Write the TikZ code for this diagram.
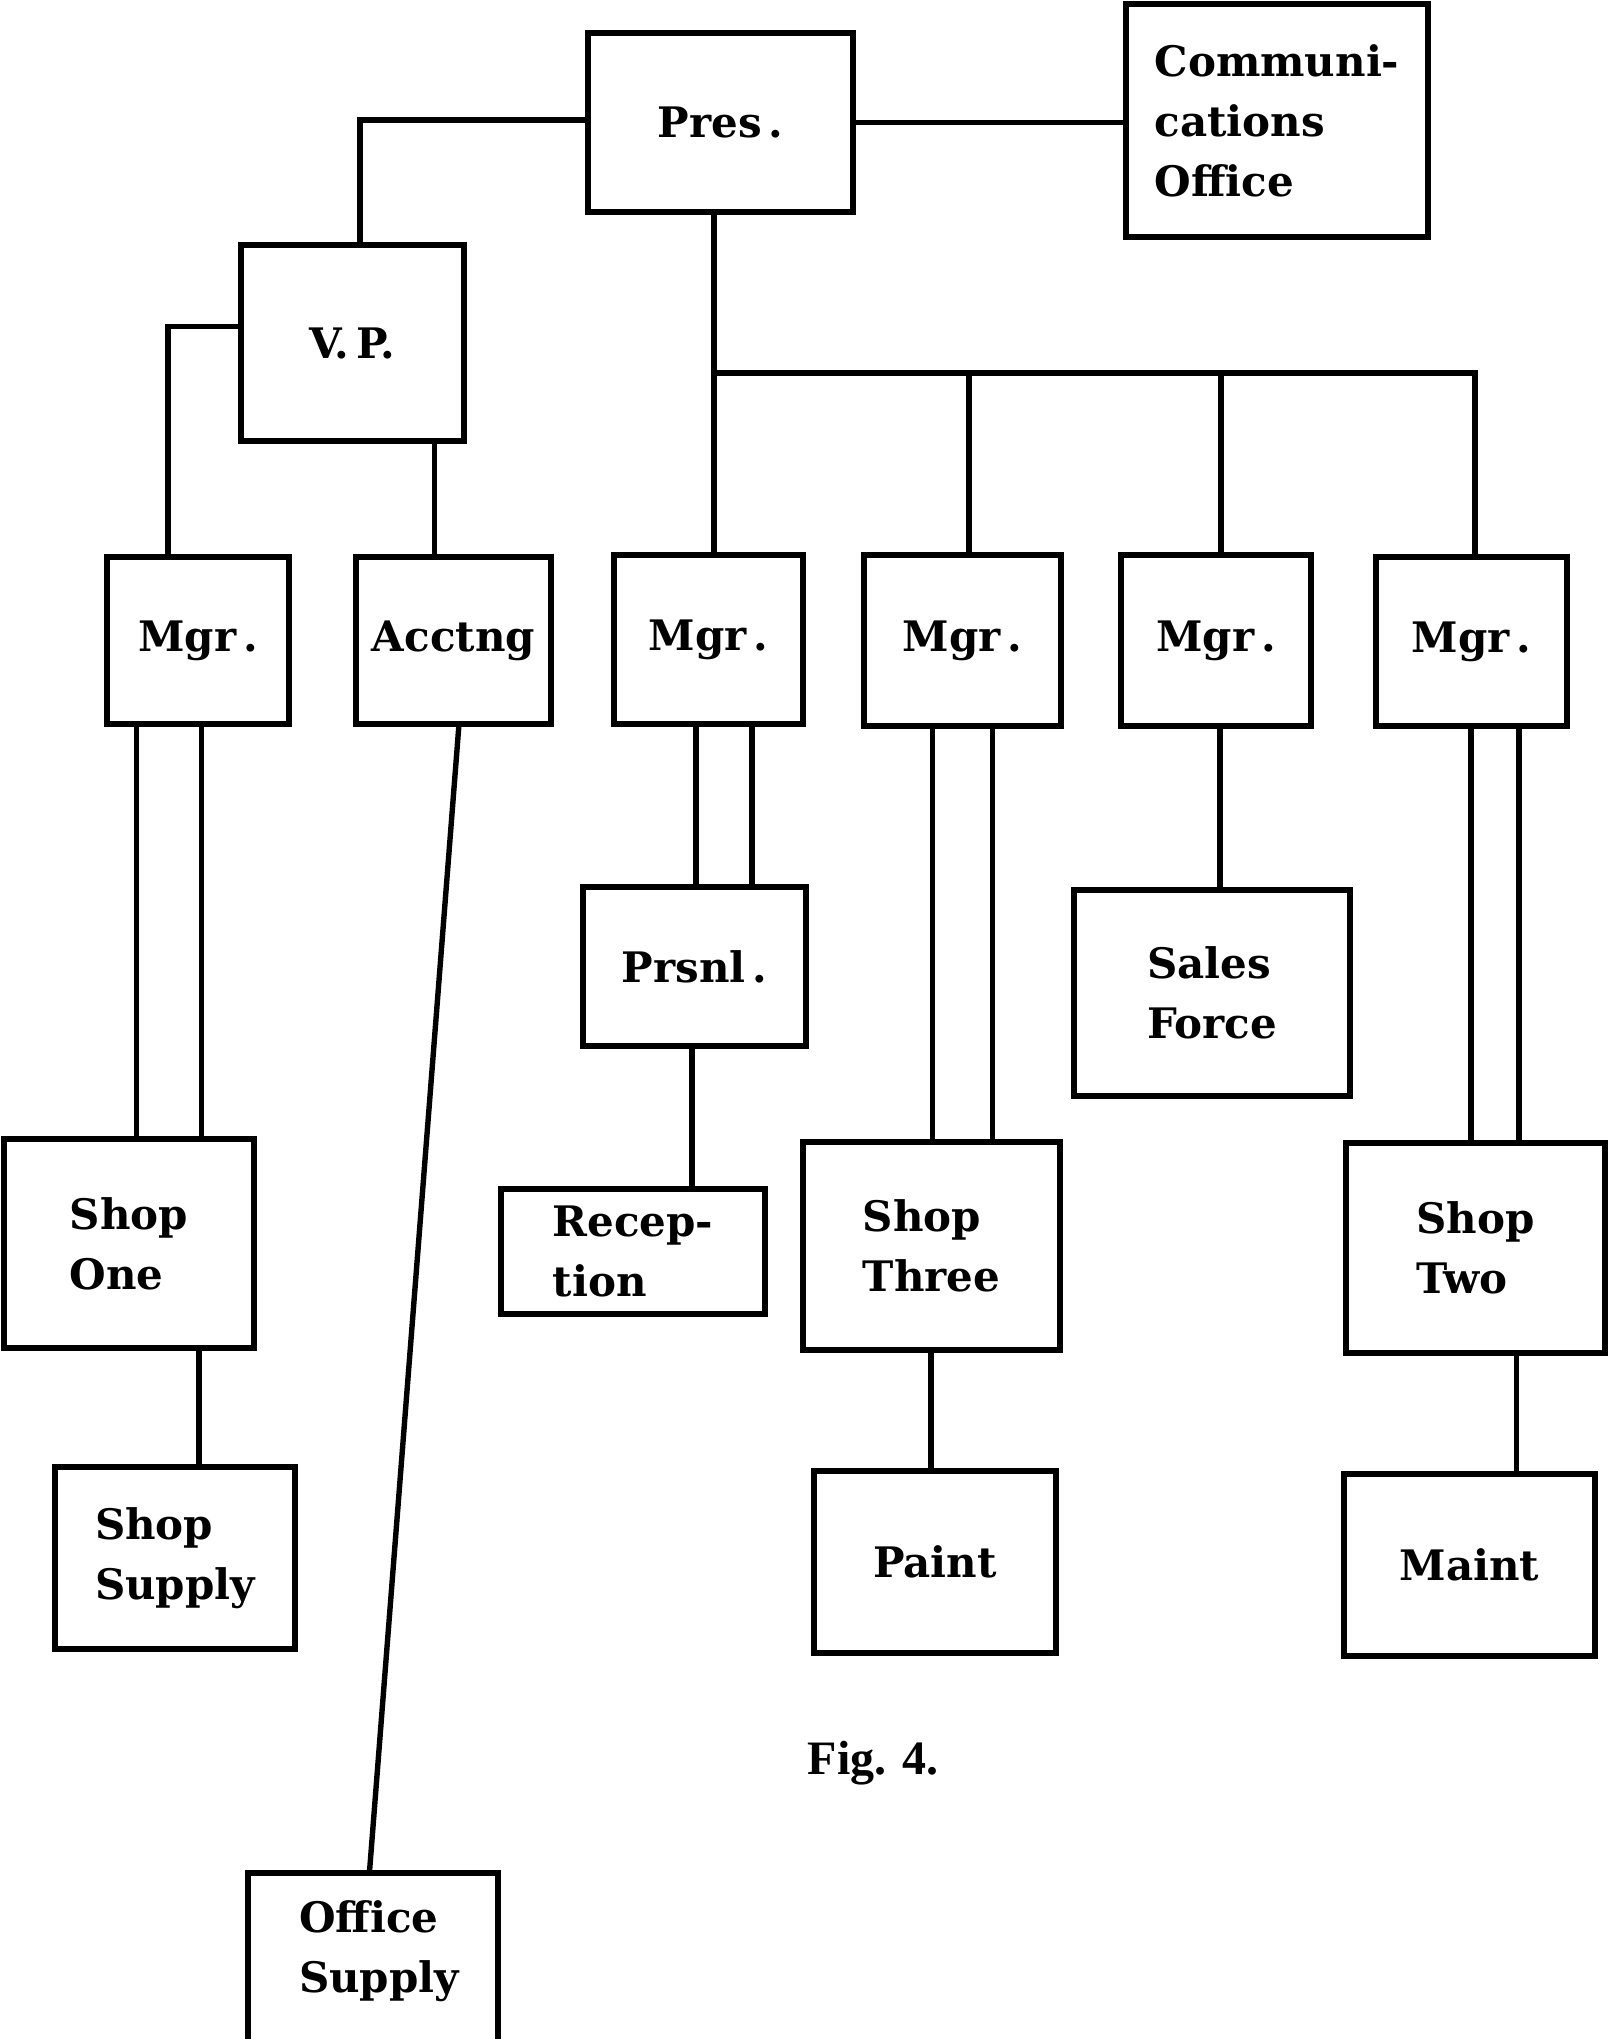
\documentclass[tikz,border=0pt]{standalone}
\usepackage{fontspec}
\setmainfont{DejaVu Serif}
\newfontfamily\figfont{Liberation Serif}
\begin{document}
\begin{tikzpicture}[x=0.5pt,y=-0.5pt,
  boxtext/.style={align=left, font=\bfseries\fontsize{21}{30}\selectfont},
  box/.style={draw, line width=3.3pt, inner sep=0pt, outer sep=0pt, boxtext},
  conn/.style={line width=2.7pt}]
\useasboundingbox (0,0) rectangle (1609,2039);

% boxes
\node[box, minimum width=132.5pt, minimum height=89.5pt] (pres) at (720.5,122.5) {Pres\,.};
\node[box, minimum width=151pt, minimum height=116.5pt] (comm) at (1277,120.5) {Communi-\\cations\\Office};
\node[box, minimum width=111.5pt, minimum height=98pt] (vp) at (352.5,343) {V.\,P.};
\node[box, minimum width=91pt, minimum height=83.5pt] (mgr1) at (198,640.5) {Mgr\,.};
\node[box, minimum width=97.5pt, minimum height=83.5pt] (acct) at (453.5,640.5) {Acctng};
\node[box, minimum width=94.5pt, minimum height=84.5pt] (mgr2) at (708.5,639.5) {Mgr\,.};
\node[box, minimum width=98.5pt, minimum height=85.5pt] (mgr3) at (962.5,640.5) {Mgr\,.};
\node[box, minimum width=95pt, minimum height=85.5pt] (mgr4) at (1216,640.5) {Mgr\,.};
\node[box, minimum width=95.5pt, minimum height=84.5pt] (mgr5) at (1471.5,641.5) {Mgr\,.};
\node[box, minimum width=111.5pt, minimum height=79.5pt] (prsnl) at (694.5,966.5) {Prsnl\,.};
\node[box, minimum width=138pt, minimum height=103pt] (sales) at (1212,993) {Sales\\Force};
\node[box, minimum width=125pt, minimum height=104.5pt] (shop1) at (129,1243.5) {Shop\\One};
\node[box, minimum width=132pt, minimum height=62.5pt] (recep) at (633,1251.5) {Recep-\\tion};
\node[box, minimum width=128.5pt, minimum height=104pt] (shop3) at (931.5,1246) {Shop\\Three};
\node[box, minimum width=129.5pt, minimum height=105pt] (shop2) at (1475.5,1248) {Shop\\Two};
\node[box, minimum width=120pt, minimum height=91pt] (ssup) at (175,1558) {Shop\\Supply};
\node[box, minimum width=121pt, minimum height=91pt] (paint) at (935,1562) {Paint};
\node[box, minimum width=125.5pt, minimum height=91pt] (maint) at (1469.5,1565) {Maint};
\node[box, minimum width=125pt, minimum height=100pt,
      label={[boxtext, yshift=11pt, xshift=3pt]center:Office\\Supply}] (office) at (373,1973) {};
\node[font=\figfont\bfseries\fontsize{24}{28}\selectfont] (fig) at (873,1763) {Fig. 4.};

% helper coordinates (x positions of links)
\coordinate (pv) at (360,120);
\coordinate (bus) at (714,373);
\coordinate (b3) at (969,373);
\coordinate (b4) at (1221,373);
\coordinate (b5) at (1475,373);
\coordinate (vl) at (168,326.5);
\coordinate (va) at (434.5,0);
\coordinate (m1a) at (136.5,0);
\coordinate (m1b) at (201.6,0);
\coordinate (aa) at (459,0);
\coordinate (ob) at (369.4,0);
\coordinate (m2a) at (696,0);
\coordinate (m2b) at (752,0);
\coordinate (pr) at (692,0);
\coordinate (m3a) at (932.6,0);
\coordinate (m3b) at (992.4,0);
\coordinate (m4) at (1220,0);
\coordinate (m5a) at (1471,0);
\coordinate (m5b) at (1519,0);
\coordinate (s1) at (199,0);
\coordinate (s3) at (931,0);
\coordinate (s2) at (1516.6,0);

% connectors
\draw[conn] (pv -| pres.west) -- (pv) -- (pv |- vp.north);
\draw[conn] (pres.east) -- (pres.east -| comm.west);
\draw[conn] (bus |- pres.south) -- (bus |- mgr2.north);
\draw[conn] (bus) -- (b5) -- (b5 |- mgr5.north);
\draw[conn] (b3) -- (b3 |- mgr3.north);
\draw[conn] (b4) -- (b4 |- mgr4.north);
\draw[conn] (vl -| vp.west) -- (vl) -- (vl |- mgr1.north);
\draw[conn] (va |- vp.south) -- (va |- acct.north);
\draw[conn] (m1a |- mgr1.south) -- (m1a |- shop1.north);
\draw[conn] (m1b |- mgr1.south) -- (m1b |- shop1.north);
\draw[conn] (aa |- acct.south) -- (ob |- office.north);
\draw[conn] (m2a |- mgr2.south) -- (m2a |- prsnl.north);
\draw[conn] (m2b |- mgr2.south) -- (m2b |- prsnl.north);
\draw[conn] (pr |- prsnl.south) -- (pr |- recep.north);
\draw[conn] (m3a |- mgr3.south) -- (m3a |- shop3.north);
\draw[conn] (m3b |- mgr3.south) -- (m3b |- shop3.north);
\draw[conn] (m4 |- mgr4.south) -- (m4 |- sales.north);
\draw[conn] (m5a |- mgr5.south) -- (m5a |- shop2.north);
\draw[conn] (m5b |- mgr5.south) -- (m5b |- shop2.north);
\draw[conn] (s1 |- shop1.south) -- (s1 |- ssup.north);
\draw[conn] (s3 |- shop3.south) -- (s3 |- paint.north);
\draw[conn] (s2 |- shop2.south) -- (s2 |- maint.north);
\end{tikzpicture}
\end{document}
